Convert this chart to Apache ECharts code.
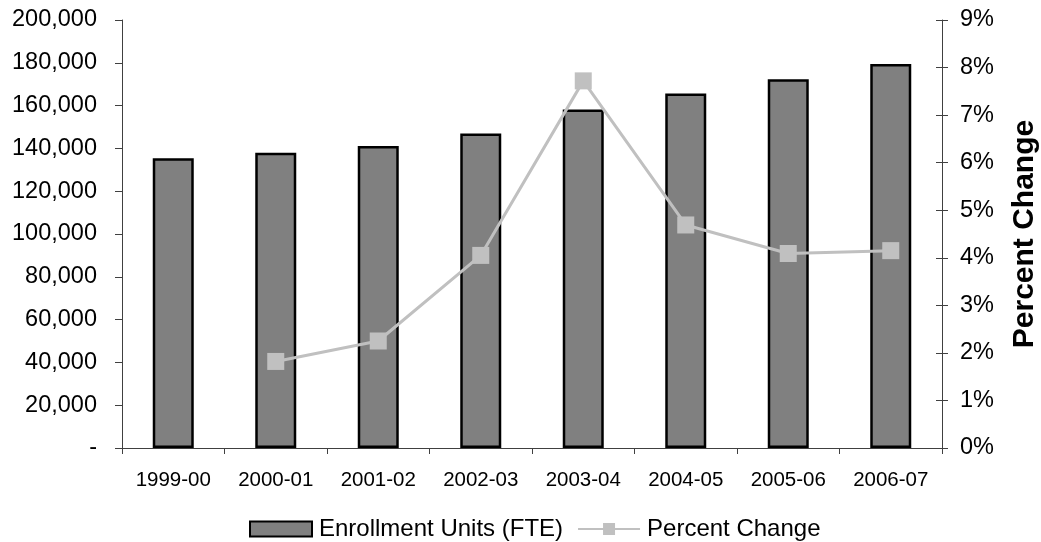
<!DOCTYPE html>
<html>
<head>
<meta charset="utf-8">
<script src="https://cdn.jsdelivr.net/npm/echarts@6/dist/echarts.min.js"></script>
<style>html,body{margin:0;padding:0;background:#fff}#c{width:1041px;height:542px}</style>
</head>
<body>
<div id="c"></div>
<script>
var categories = ['1999-00','2000-01','2001-02','2002-03','2003-04','2004-05','2005-06','2006-07'];
var enrollment = [135400, 138000, 141100, 147000, 158200, 165700, 172300, 179400];
var percentChange = [null, 1.82, 2.25, 4.05, 7.72, 4.69, 4.09, 4.15];
var leftTicks = {min: 0, max: 200000, interval: 20000};
var rightTicks = {min: 0, max: 9, interval: 1};

var FONT = '"Liberation Sans", Arial, sans-serif';
var chart = echarts.init(document.getElementById('c'), null, {renderer: 'canvas'});
function fmtNum(v){ return v === 0 ? '-' : v.toString().replace(/\B(?=(\d{3})+(?!\d))/g, ','); }
var axisLineStyle = {color: '#404040', width: 1};
chart.setOption({
  animation: false,
  backgroundColor: '#fff',
  textStyle: {fontFamily: FONT, color: '#000'},
  grid: {left: 122, right: 99, top: 20, bottom: 94, containLabel: false, outerBoundsMode: 'none'},
  legend: {
    data: [{name: 'Enrollment Units (FTE)', icon: 'rect'}, {name: 'Percent Change'}],
    left: 249, top: 517, padding: 0,
    itemWidth: 62, itemHeight: 15, itemGap: 14,
    textStyle: {fontFamily: FONT, fontSize: 24, color: '#000', padding: [0,0,0,2]}
  },
  xAxis: {
    type: 'category', data: categories,
    axisLine: {lineStyle: axisLineStyle},
    axisTick: {show: true, alignWithLabel: false, length: 6, lineStyle: axisLineStyle},
    axisLabel: {fontFamily: FONT, fontSize: 20.5, color: '#000', margin: 22, interval: 0}
  },
  yAxis: [
    {
      type: 'value', min: leftTicks.min, max: leftTicks.max, interval: leftTicks.interval,
      position: 'left',
      axisLine: {show: true, lineStyle: axisLineStyle},
      axisTick: {show: true, length: 7, lineStyle: axisLineStyle},
      splitLine: {show: false},
      axisLabel: {fontFamily: FONT, fontSize: 23.5, color: '#000', margin: 25, formatter: fmtNum}
    },
    {
      type: 'value', min: rightTicks.min, max: rightTicks.max, interval: rightTicks.interval,
      position: 'right',
      name: 'Percent Change', nameLocation: 'middle', nameRotate: 90, nameGap: 68,
      nameTextStyle: {fontFamily: FONT, fontSize: 30, fontWeight: 'bold', color: '#000'},
      axisLine: {show: true, lineStyle: axisLineStyle},
      axisTick: {show: true, length: 6, lineStyle: axisLineStyle},
      splitLine: {show: false},
      axisLabel: {fontFamily: FONT, fontSize: 23.5, color: '#000', margin: 18, formatter: '{value}%'}
    },
    {
      type: 'value', min: rightTicks.min, max: rightTicks.max, interval: rightTicks.interval,
      position: 'right',
      axisLine: {show: false},
      axisTick: {show: true, inside: true, length: 6, lineStyle: axisLineStyle},
      splitLine: {show: false},
      axisLabel: {show: false}
    }
  ],
  series: [
    {
      name: 'Enrollment Units (FTE)', type: 'bar', data: enrollment, yAxisIndex: 0,
      barWidth: 41,
      itemStyle: {color: '#808080', borderColor: '#000', borderWidth: 2.5}
    },
    {
      name: 'Percent Change', type: 'line', data: percentChange, yAxisIndex: 1,
      symbol: 'rect', symbolSize: 17,
      lineStyle: {color: '#C0C0C0', width: 3},
      itemStyle: {color: '#C0C0C0'}
    }
  ]
});
</script>
</body>
</html>
